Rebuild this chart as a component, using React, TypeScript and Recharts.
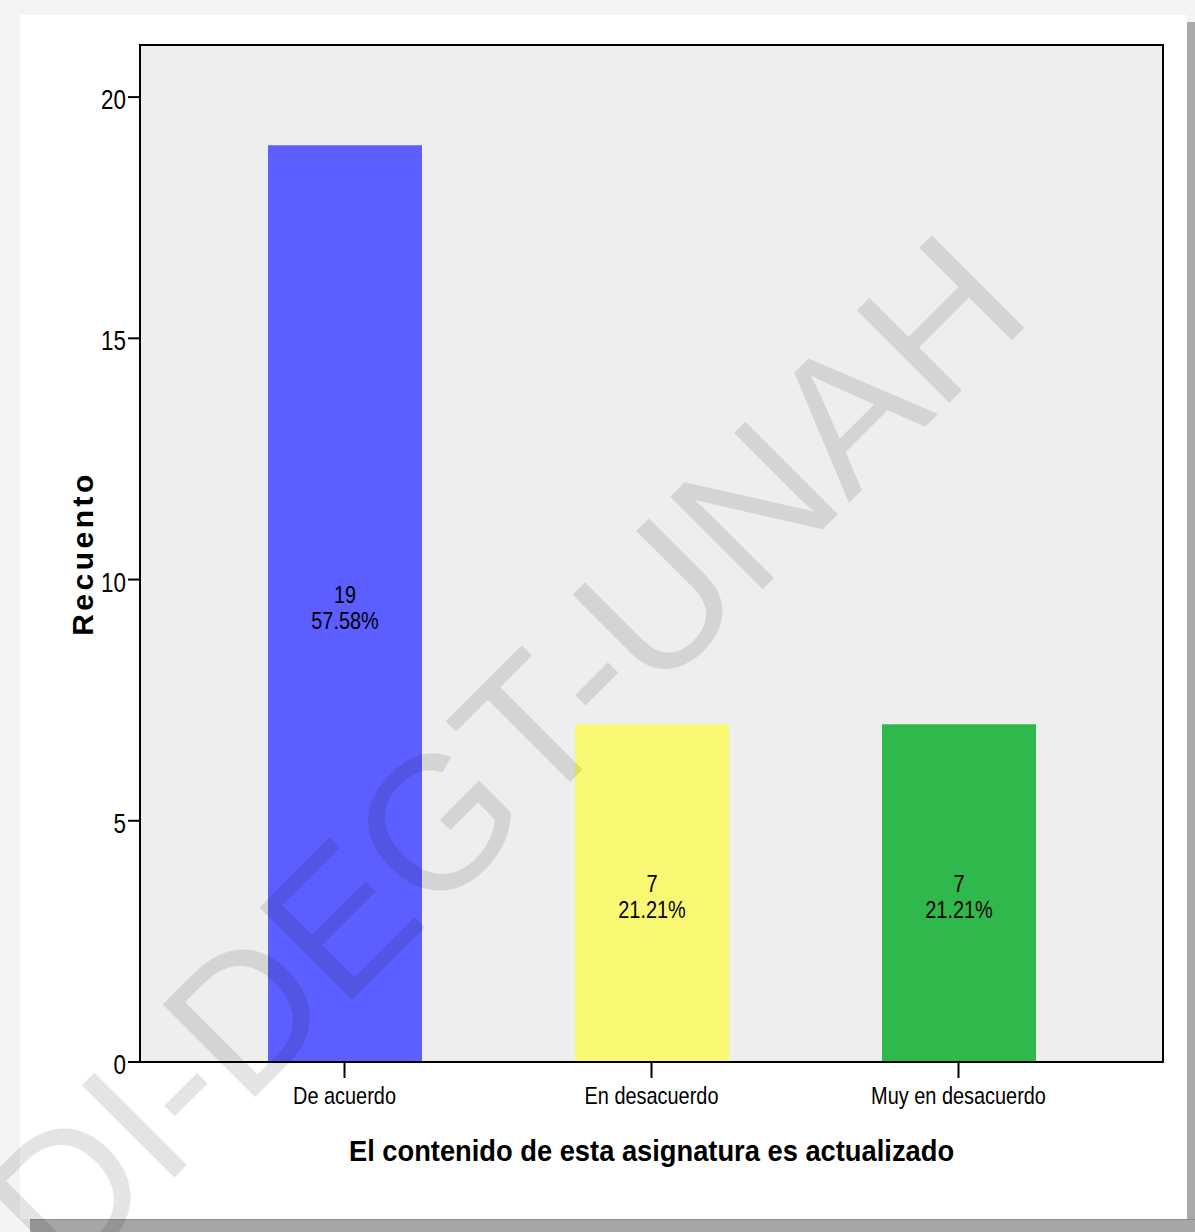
import React from 'react';
import { BarChart, Bar, XAxis, YAxis, CartesianGrid, Cell, LabelList, Label } from 'recharts';

const categories = ['De acuerdo', 'En desacuerdo', 'Muy en desacuerdo'];
const counts = [19, 7, 7];
const percents = ['57.58%', '21.21%', '21.21%'];
const barColors = ['#5c5eff', '#f9f872', '#2fb84b'];
const yTicks = [0, 5, 10, 15, 20];
const xTitle = 'El contenido de esta asignatura es actualizado';
const yTitle = 'Recuento';
const watermark = 'DI-DEGT-UNAH';

const data = categories.map((name, i) => ({ name, value: counts[i], pct: percents[i] }));

const SANS = "'Liberation Sans', Arial, sans-serif";
const SQUEEZE = 0.83;

const BarLabel = (props: any) => {
  const { x, y, width, height, index } = props;
  const cx = x + width / 2;
  const cy = y + height / 2;
  return (
    <g transform={`translate(${cx},0) scale(${SQUEEZE},1)`}>
      <text x={0} y={cy} textAnchor="middle" fontFamily={SANS} fontSize={24} fill="#000">
        <tspan x={0} y={cy - 1}>{String(counts[index])}</tspan>
        <tspan x={0} y={cy + 25}>{percents[index]}</tspan>
      </text>
    </g>
  );
};

const XTick = (props: any) => {
  const { x, y, payload } = props;
  return (
    <g transform={`translate(${x},${y}) scale(${SQUEEZE},1)`}>
      <text x={0} y={0} dy={17.5} textAnchor="middle" fontFamily={SANS} fontSize={24} fill="#000">
        {payload.value}
      </text>
    </g>
  );
};

const YTick = (props: any) => {
  const { x, y, payload } = props;
  return (
    <g transform={`translate(${x},${y}) scale(${SQUEEZE},1)`}>
      <text x={0} y={0} dy={12} textAnchor="end" fontFamily={SANS} fontSize={27} fill="#000">
        {payload.value}
      </text>
    </g>
  );
};

const XTitle = (props: any) => {
  const vb = props.viewBox || {};
  const cx = vb.x + vb.width / 2;
  return (
    <g transform={`translate(${cx},1161) scale(0.91,1)`}>
      <text x={0} y={0} textAnchor="middle" fontFamily={SANS} fontWeight="bold" fontSize={30} fill="#000">
        {xTitle}
      </text>
    </g>
  );
};

const YTitle = (props: any) => {
  const vb = props.viewBox || {};
  const cy = vb.y + vb.height / 2;
  const x = 93;
  return (
    <text x={x} y={cy} textAnchor="middle" fontFamily={SANS} fontWeight="bold" fontSize={30} letterSpacing={3.5} fill="#000" transform={`rotate(-90, ${x}, ${cy})`}>
      {yTitle}
    </text>
  );
};

export default function App() {
  return (
    <div style={{ position: 'absolute', left: 0, top: 0, width: 1195, height: 1232, background: '#f4f4f4', overflow: 'hidden' }}>
      <div style={{ position: 'absolute', left: 20, top: 15, width: 1167, height: 1204, background: '#ffffff' }} />
      <div style={{ position: 'absolute', left: 1187, top: 22, width: 8, height: 1210, background: '#a9a9a9' }} />
      <div style={{ position: 'absolute', left: 30, top: 1219, width: 1165, height: 13, background: '#a6a6a6', borderTop: '1px solid #8e8e8e' }} />
      <div style={{ position: 'absolute', left: 0, top: 0 }}>
        <BarChart width={1195} height={1232} data={data} margin={{ top: 45, right: 32, bottom: 110, left: 80 }}>
          <CartesianGrid fill="#eeeeee" horizontal={false} vertical={false} />
          <XAxis
            dataKey="name"
            padding={{ left: 51, right: 51 }}
            height={60}
            interval={0}
            tickSize={16}
            tickMargin={8}
            axisLine={{ stroke: '#000', strokeWidth: 2 }}
            tickLine={{ stroke: '#000', strokeWidth: 2 }}
            tick={<XTick />}
          >
            <Label content={<XTitle />} />
          </XAxis>
          <YAxis
            width={60}
            domain={[0, 21.08]}
            ticks={yTicks}
            allowDataOverflow
            tickSize={12}
            tickMargin={2}
            axisLine={{ stroke: '#000', strokeWidth: 2 }}
            tickLine={{ stroke: '#000', strokeWidth: 2 }}
            tick={<YTick />}
          >
            <Label content={<YTitle />} />
          </YAxis>
          <Bar dataKey="value" barSize={154} isAnimationActive={false}>
            {data.map((d, i) => (
              <Cell key={d.name} fill={barColors[i]} />
            ))}
            <LabelList dataKey="value" content={<BarLabel />} />
          </Bar>
        </BarChart>
      </div>
      <div style={{ position: 'absolute', left: 139, top: 44, width: 1025, height: 1019, border: '2px solid #000', boxSizing: 'border-box', pointerEvents: 'none' }} />
      <svg width={1195} height={1232} style={{ position: 'absolute', left: 0, top: 0, pointerEvents: 'none' }}>
        <g opacity={0.1}>
          <text x={65} y={1287} fontFamily={SANS} fontSize={190} fill="#000" transform="rotate(-45, 65, 1287)">
            {watermark}
          </text>
        </g>
      </svg>
    </div>
  );
}
